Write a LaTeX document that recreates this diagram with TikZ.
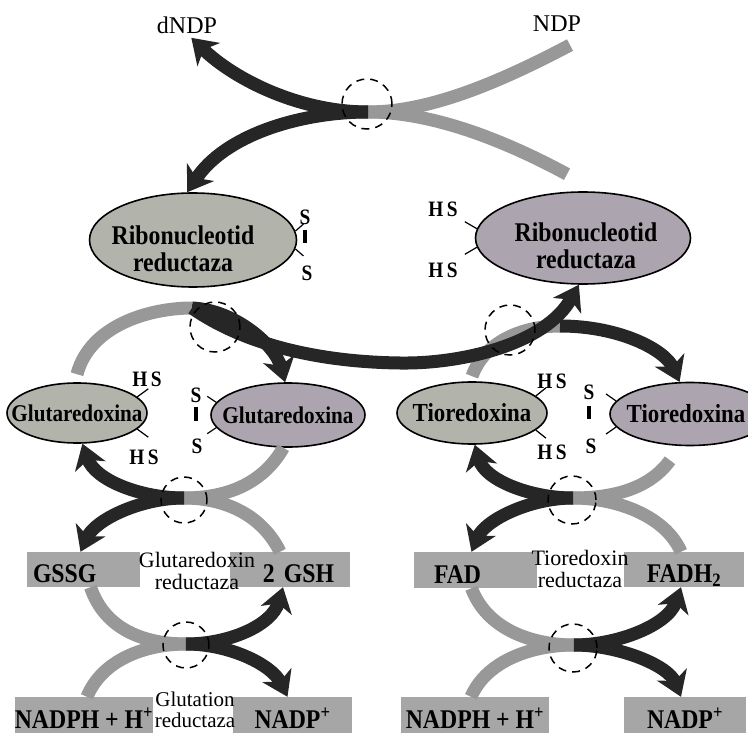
\documentclass[tikz,border=0pt]{standalone}
\usepackage{fontspec}
\setmainfont{Liberation Serif}
\newfontfamily\labelfont[FakeStretch=0.88]{Liberation Serif}
\usetikzlibrary{arrows.meta}
\usetikzlibrary{shapes.geometric}

\definecolor{darkflow}{RGB}{38,38,38}
\definecolor{lightflow}{RGB}{152,152,152}
\definecolor{enzgreen}{RGB}{178,180,172}
\definecolor{enzviolet}{RGB}{172,164,174}
\definecolor{boxgray}{RGB}{166,166,166}

\begin{document}
\begin{tikzpicture}
[x=1pt,y=-1pt,%
  enzyme/.style={ellipse,draw,line width=1.6pt,inner sep=0pt,align=center,%
    font=\labelfont\fontsize{26}{26}\selectfont\bfseries},%
  enzname/.style={inner sep=0pt,align=center,%
    font=\labelfont\fontsize{27}{27}\selectfont\bfseries},%
  metab/.style={rectangle,fill=boxgray,inner sep=0pt,text height=26pt,text depth=0pt,%
    font=\labelfont\fontsize{27}{27}\selectfont\bfseries},%
  thiol/.style={inner sep=0pt,font=\labelfont\fontsize{22}{22}\selectfont\bfseries},%
  caption/.style={inner sep=0pt,align=center,font=\fontsize{22}{22}\selectfont},%
  bond/.style={line width=1.2pt},%
  bridge/.style={line width=4pt},%
  feed/.style={line width=13pt,lightflow},%
  flow/.style={line width=13pt,darkflow,-{Stealth[length=24pt,width=32pt,inset=7pt]}},%
  site/.style={circle,draw,line width=1.5pt,dash pattern=on 8pt off 6pt,%
    minimum size=50pt,inner sep=0pt}]
\useasboundingbox (0,0) rectangle (748,733);

% enzymes
\node[enzyme,fill=enzgreen,minimum width=207pt,minimum height=94pt,%
  label={[enzname,xshift=-10pt,yshift=-9pt]center:Ribonucleotid\\reductaza}] (rnrL) at (193,240) {};
\node[enzyme,fill=enzviolet,minimum width=215pt,minimum height=92pt,%
  label={[enzname,xshift=3pt,yshift=-8pt]center:Ribonucleotid\\reductaza}] (rnrR) at (583,238) {};
\node[enzyme,fill=enzgreen,minimum width=140pt,minimum height=60pt,%
  font=\labelfont\fontsize{24}{24}\selectfont\bfseries] (grxL) at (77,413) {\makebox[0pt]{Glutaredoxina}};
\node[enzyme,fill=enzviolet,minimum width=154pt,minimum height=64pt,%
  font=\labelfont\fontsize{24}{24}\selectfont\bfseries] (grxR) at (288,415) {\makebox[0pt]{Glutaredoxina}};
\node[enzyme,fill=enzgreen,minimum width=150pt,minimum height=62pt] (trxL) at (472,413)
  {\makebox[0pt]{Tioredoxina}};
\node[enzyme,fill=enzviolet,minimum width=160pt,minimum height=63pt] (trxR) at (690,414)
  {\makebox[0pt]{\hspace{-8pt}Tioredoxina}};

% metabolites
\node[metab,minimum width=113pt,minimum height=35pt,inner xsep=6pt,text width=101pt,align=left]
  (gssg) at (83.5,569.5) {GSSG};
\node[metab,minimum width=120pt,minimum height=35pt,inner xsep=16pt,text width=88pt,align=right]
  (gsh) at (290,569.5) {2 GSH};
\node[metab,minimum width=138pt,minimum height=36pt] (nadphL) at (84,715) {NADPH + H\textsuperscript{+}};
\node[metab,minimum width=119pt,minimum height=36pt] (nadpL) at (292.5,715) {NADP\textsuperscript{+}};
\node[metab,minimum width=123pt,minimum height=36pt,inner xsep=20pt,text width=83pt,align=left]
  (fad) at (475.5,570) {FAD};
\node[metab,minimum width=120pt,minimum height=35pt] (fadh) at (684,569.5) {FADH\textsubscript{2}};
\node[metab,minimum width=148pt,minimum height=36pt] (nadphR) at (475,715) {NADPH + H\textsuperscript{+}};
\node[metab,minimum width=122pt,minimum height=36pt] (nadpR) at (685,715) {NADP\textsuperscript{+}};

\node[caption,font=\fontsize{24}{25}\selectfont] (dndp) at (187,25) {dNDP};
\node[caption,font=\fontsize{24}{25}\selectfont] (ndp) at (557,24) {NDP};
\node[caption] (grxred) at (197,571) {Glutaredoxin\\reductaza};
\node[caption,font=\fontsize{21}{21}\selectfont] (gsr) at (195,710) {Glutation\\reductaza};
\node[caption] (trxred) at (580,569) {Tioredoxin\\reductaza};

% thiol groups
\node[thiol] (sRa) at (305,217) {S};
\node[thiol] (sRb) at (307,273) {S};
\node[thiol] (hsRa) at (443,209) {H\,S};
\node[thiol] (hsRb) at (443,270) {H\,S};
\node[thiol] (hsGa) at (147,379) {H\,S};
\node[thiol] (hsGb) at (144,457) {H\,S};
\node[thiol] (sGa) at (196,395) {S};
\node[thiol] (sGb) at (197,446) {S};
\node[thiol] (hsTa) at (552,381) {H\,S};
\node[thiol] (hsTb) at (552,452) {H\,S};
\node[thiol] (sTa) at (589,392) {S};
\node[thiol] (sTb) at (591,446) {S};
\draw[bond] (rnrL.5) -- ++(8,-7);
\draw[bond] (rnrL.-5) -- ++(8,7);
\draw[bond] (rnrR.175) -- ++(-12,-7);
\draw[bond] (rnrR.185) -- ++(-12,7);
\draw[bond] (grxL.15) -- ++(11,-8);
\draw[bond] (grxL.-15) -- ++(11,8);
\draw[bond] (grxR.170) -- ++(-9,-6);
\draw[bond] (grxR.190) -- ++(-9,6);
\draw[bond] (trxL.15) -- ++(10,-8);
\draw[bond] (trxL.-15) -- ++(10,8);
\draw[bond] (trxR.170) -- ++(-10,-7);
\draw[bond] (trxR.190) -- ++(-10,7);
\draw[bridge] ([yshift=-5pt]sRa.south) -- ++(0,13);
\draw[bridge] ([yshift=-4pt]sGa.south) -- ++(0,14);
\draw[bridge] ([yshift=-6pt]sTa.south) -- ++(0,13);

% crossings
\coordinate (xTop) at (368,112);
\coordinate (xGrx) at (192,308);
\coordinate (rnrPass) at (400,363);
\coordinate (trxTop) at (560,326);
\coordinate (xG1) at (184,498);
\coordinate (xG2) at (186,644);
\coordinate (xT1) at (573,498);
\coordinate (xT2) at (574,645);

\draw[feed] ([xshift=13pt,yshift=-13pt]ndp.south) .. controls (500,82) and (430,112) .. (xTop);
\draw[feed] ([xshift=-16pt,yshift=17pt]rnrR.north) .. controls (500,138) and (430,112) .. (xTop);
\draw[feed] ([yshift=8pt]grxL.north) .. controls (90,325) and (150,308) .. (xGrx);
\draw[feed] ([yshift=5pt]trxL.north) .. controls (485,340) and (525,326) .. (trxTop);
\draw[feed] (grxR.262) .. controls (262,485) and (225,498) .. (xG1);
\draw[feed] ([xshift=-10pt]gsh.north) .. controls (262,515) and (225,498) .. (xG1);
\draw[feed] ([xshift=7pt]gssg.south) .. controls (105,630) and (145,644) .. (xG2);
\draw[feed] ([xshift=3pt]nadphL.north) .. controls (102,660) and (145,644) .. (xG2);
\draw[feed] ([xshift=-20pt,yshift=-14pt]trxR.south) .. controls (650,488) and (615,498) .. (xT1);
\draw[feed] ([xshift=-3pt]fadh.north) .. controls (665,515) and (615,498) .. (xT1);
\draw[feed] ([xshift=-4pt]fad.south) .. controls (487,630) and (533,645) .. (xT2);
\draw[feed] ([xshift=-4pt]nadphR.north) .. controls (487,660) and (533,645) .. (xT2);

\draw[flow,shorten >=6pt] (xTop) .. controls (300,112) and (235,80) .. (dndp.south);
\draw[flow] (xTop) .. controls (300,112) and (225,135) .. (rnrL.97);
\draw[flow] (xGrx) .. controls (235,310) and (275,345) .. (grxR.95);
\draw[flow] (xGrx) .. controls (245,345) and (320,362) .. (rnrPass)
  .. controls (460,364) and (545,345) .. (rnrR.265);
\draw[flow] (trxTop) .. controls (620,326) and (665,350) .. (trxR.108);
\draw[flow] (xG1) .. controls (140,498) and (95,480) .. (grxL.280);
\draw[flow] (xG1) .. controls (140,498) and (95,520) .. ([xshift=-3pt]gssg.north);
\draw[flow] (xG2) .. controls (230,644) and (272,625) .. ([xshift=-7pt]gsh.south);
\draw[flow] (xG2) .. controls (230,644) and (272,665) .. ([xshift=-5pt]nadpL.north);
\draw[flow] (xT1) .. controls (530,498) and (485,480) .. (trxL.275);
\draw[flow] (xT1) .. controls (530,498) and (485,520) .. ([xshift=-4pt]fad.north);
\draw[flow] (xT2) .. controls (618,645) and (668,625) .. ([xshift=-3pt]fadh.south);
\draw[flow] (xT2) .. controls (618,645) and (668,665) .. ([xshift=-4pt]nadpR.north);

% active sites
\node[site] (siteTop) at (367,104) {};
\node[site] (siteGrx) at (215,327) {};
\node[site] (siteTrx) at (510,330) {};
\node[site,minimum size=46pt] (siteG1) at (184,500) {};
\node[site,minimum size=46pt] (siteG2) at (186,645) {};
\node[site,minimum size=48pt] (siteT1) at (572,500) {};
\node[site,minimum size=48pt] (siteT2) at (573,648) {};
\end{tikzpicture}
\end{document}
